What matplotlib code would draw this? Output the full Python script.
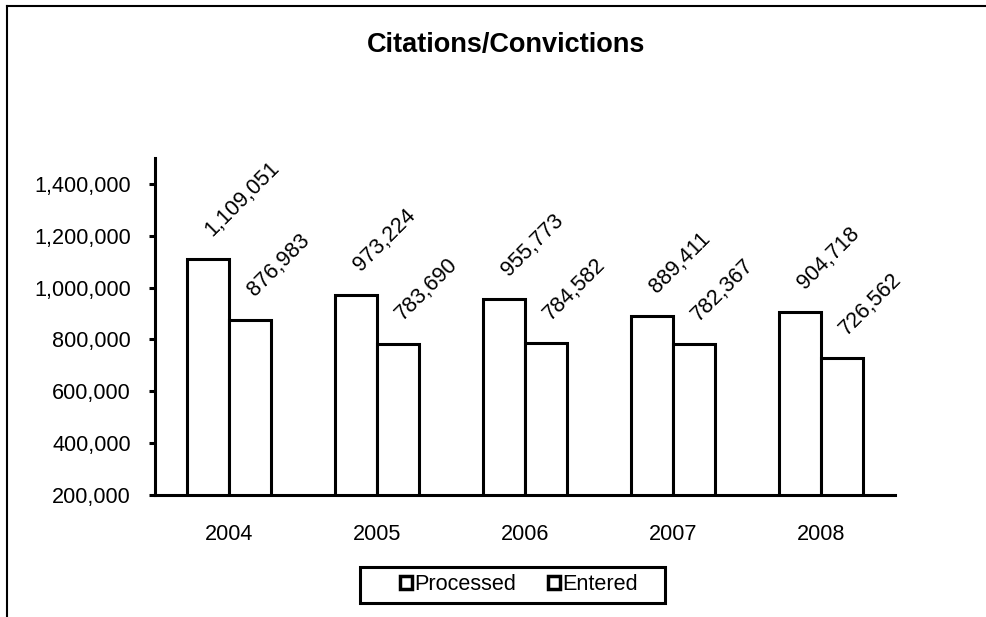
import numpy as np
import matplotlib
matplotlib.use("Agg")
import matplotlib.pyplot as plt
from matplotlib.lines import Line2D
from matplotlib.patches import Rectangle
from matplotlib.ticker import FuncFormatter

# ---------------------------------------------------------------------
YEARS     = ["2004", "2005", "2006", "2007", "2008"]
PROCESSED = [1109051, 973224, 955773, 889411, 904718]
ENTERED   = [876983, 783690, 784582, 782367, 726562]

W, H = 987, 617
FS = 15.6
plt.rcParams["font.family"] = ["Liberation Sans", "DejaVu Sans"]

fig = plt.figure(figsize=(W / 100, H / 100), dpi=100)
ax = fig.add_axes([155 / W, 1 - 495 / H, (895 - 155) / W, (495 - 158) / H])

x = np.arange(len(YEARS))
bw = 0.284
lw = 2.2
ax.bar(x - bw / 2, PROCESSED, bw, color="white", edgecolor="black",
       linewidth=lw, label="Processed", zorder=2)
ax.bar(x + bw / 2, ENTERED, bw, color="white", edgecolor="black",
       linewidth=lw, label="Entered", zorder=2)

# étiquettes de valeurs à 45°
for serie, dx in ((PROCESSED, -bw / 2), (ENTERED, bw / 2)):
    for xi, v in zip(x + dx, serie):
        ax.annotate(f"{v:,}", (xi, v), xytext=(8, 19), textcoords="offset pixels",
                    rotation=45, rotation_mode="anchor", ha="left", va="bottom",
                    fontsize=FS)

ax.set_xlim(-0.5, len(YEARS) - 0.5)
ax.set_ylim(200000, 1500000)
ax.set_yticks(range(200000, 1400001, 200000))
ax.yaxis.set_major_formatter(FuncFormatter(lambda v, p: f"{int(v):,}"))
ax.set_xticks(x)
ax.set_xticklabels(YEARS)
ax.tick_params(axis="y", length=4.3, width=lw, labelsize=FS, pad=13)
ax.tick_params(axis="x", length=0, labelsize=FS, pad=21)

for s in ["top", "right"]:
    ax.spines[s].set_visible(False)
for s in ["left", "bottom"]:
    ax.spines[s].set_linewidth(lw)

fig.text(506 / W, 1 - 45 / H, "Citations/Convictions", ha="center", va="center",
         fontsize=19.5, fontweight="bold")

# légende sans cadre + cadre dessiné à part
leg = ax.legend(loc="center", bbox_to_anchor=(519 / W, 1 - 585 / H),
                bbox_transform=fig.transFigure, ncol=2, frameon=False,
                fontsize=FS, handlelength=0.55, handleheight=0.55,
                handletextpad=0.1, columnspacing=1.45, borderpad=0)
for h in leg.legend_handles:
    h.set_linewidth(2.5)
fig.add_artist(Rectangle((360 / W, 1 - 603 / H), 305 / W, 36 / H,
                         transform=fig.transFigure, fill=False,
                         edgecolor="black", linewidth=lw))

# cadre extérieur (gauche + haut)
fig.add_artist(Line2D([7 / W, 7 / W], [0, 1 - 6 / H], transform=fig.transFigure,
                      color="black", linewidth=1.5))
fig.add_artist(Line2D([7 / W, 1], [1 - 6 / H, 1 - 6 / H], transform=fig.transFigure,
                      color="black", linewidth=1.5))

fig.savefig("out.png", dpi=100)
